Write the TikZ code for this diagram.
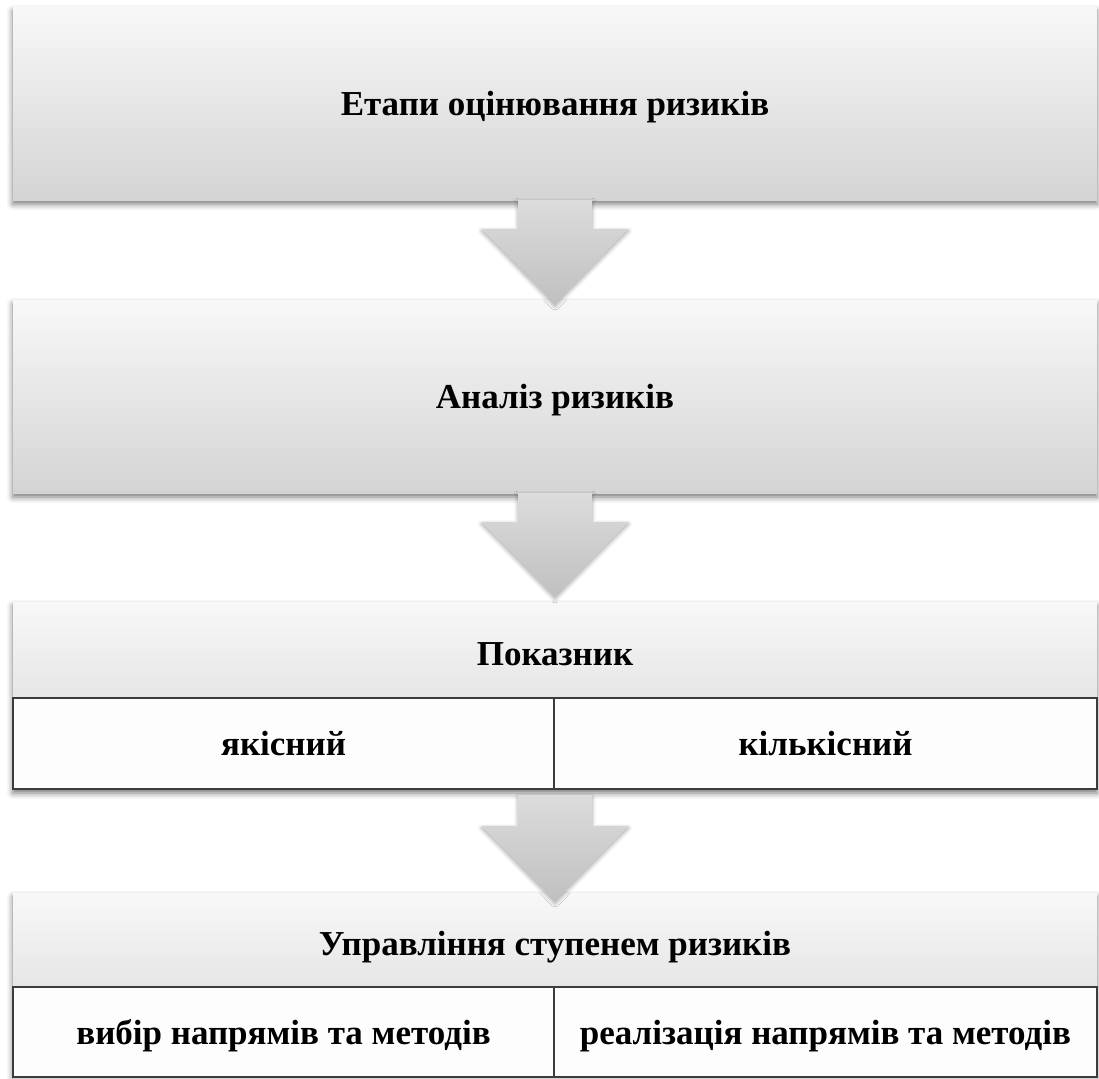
\documentclass[tikz,border=0pt]{standalone}
\usepackage{fontspec}
\setmainfont{Liberation Serif}[BoldFont={Liberation Serif Bold}]
\usetikzlibrary{calc,shadows.blur}

\definecolor{boxtop}{HTML}{F8F8F8}
\definecolor{boxbottom}{HTML}{D4D4D4}
\definecolor{arrowtop}{HTML}{DCDCDC}
\definecolor{arrowbottom}{HTML}{C0C0C0}
\definecolor{cellfill}{HTML}{FDFDFD}
\definecolor{cellline}{HTML}{3C3C3C}

\newcommand{\labelfont}{\fontsize{35}{42}\selectfont\bfseries}

\tikzset{
  softshadow/.style={blur shadow={shadow xshift=0pt, shadow yshift=-4pt,
      shadow blur radius=6pt, shadow opacity=55}},
  labeltext/.style={font=\labelfont, text height=24pt, text depth=0pt},
  stagebox/.style={rectangle, outer sep=0pt, inner sep=0pt, softshadow,
      top color=boxtop, bottom color=boxbottom, minimum width=1084pt,
      labeltext},
  caption/.style={inner sep=0pt, labeltext},
  tablecell/.style={rectangle, outer sep=0pt, inner sep=0pt, draw=cellline,
      line width=2pt, fill=cellfill, anchor=north west, labeltext},
  flowarrow/.style={top color=arrowtop, bottom color=arrowbottom,
      blur shadow={shadow xshift=0pt, shadow yshift=-2pt,
      shadow blur radius=4pt, shadow opacity=35}},
}

\begin{document}
\begin{tikzpicture}[x=1pt, y=-1pt]
\useasboundingbox (0,0) rectangle (1099,1078);

% stage boxes
\node[stagebox, minimum height=193pt] (b1) at (555,103.5) {Етапи оцінювання ризиків};
\node[stagebox, minimum height=193pt] (b2) at (555,396.5) {Аналіз ризиків};
\node[stagebox, minimum height=187pt] (b3) at (555,695.5) {};
\node[stagebox, minimum height=185pt] (b4) at (555,985.5) {};

% headers of the split stages
\node[caption] (h3) at (555,653) {Показник};
\node[caption] (h4) at (555,943) {Управління ступенем ризиків};

% table rows
\node[tablecell, minimum width=541pt, minimum height=91pt] (c31) at (13,698) {якісний};
\node[tablecell, minimum width=543pt, minimum height=91pt] (c32) at (554,698) {кількісний};
\node[tablecell, minimum width=541pt, minimum height=90pt] (c41) at (13,987) {вибір напрямів та методів};
\node[tablecell, minimum width=543pt, minimum height=90pt] (c42) at (554,987) {реалізація напрямів та методів};

% block arrows between the stages
\path[flowarrow] ($(b1.south)+(-37,0)$) -- ($(b1.south)+(-37,29)$)
  -- ($(b1.south)+(-73.5,29)$) -- ($(b1.south)+(0,104)$)
  -- ($(b1.south)+(73.5,29)$) -- ($(b1.south)+(37,29)$)
  -- ($(b1.south)+(37,0)$) -- cycle;
\path[flowarrow] ($(b2.south)+(-37,0)$) -- ($(b2.south)+(-37,29)$)
  -- ($(b2.south)+(-73.5,29)$) -- ($(b2.south)+(0,104)$)
  -- ($(b2.south)+(73.5,29)$) -- ($(b2.south)+(37,29)$)
  -- ($(b2.south)+(37,0)$) -- cycle;
\path[flowarrow] ($(b3.south)+(-37,6)$) -- ($(b3.south)+(-37,37)$)
  -- ($(b3.south)+(-73.5,37)$) -- ($(b3.south)+(0,112)$)
  -- ($(b3.south)+(73.5,37)$) -- ($(b3.south)+(37,37)$)
  -- ($(b3.south)+(37,6)$) -- cycle;
\end{tikzpicture}
\end{document}
